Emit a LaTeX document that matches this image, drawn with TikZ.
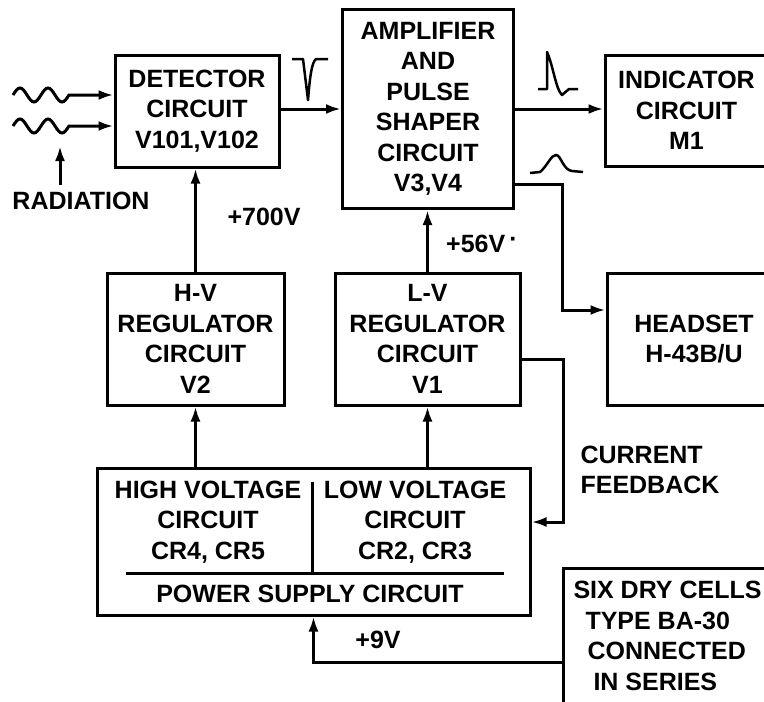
\documentclass[tikz,border=0pt]{standalone}
\usepackage{fontspec}
\setmainfont{Liberation Sans}
\usetikzlibrary{positioning,calc,arrows.meta}
\newcommand{\lettering}{\fontsize{25}{30.5}\selectfont}
\tikzset{
  blk/.style={draw, line width=3pt, align=center, font=\bfseries\lettering, inner sep=0pt},
  lbl/.style={font=\bfseries\lettering, align=center, inner sep=2pt},
  sig/.style={line width=3pt, -{Latex[length=15pt,width=10pt]}},
  wire/.style={line width=3pt},
  pulse/.style={line width=2.5pt, line join=round}
}

\begin{document}
\begin{tikzpicture}[x=1pt,y=-1pt]
  \useasboundingbox (0,0) rectangle (764,702);
  \clip (0,0) rectangle (764,702);

  % signal chain across the top
  \node[blk, minimum width=164pt, minimum height=112pt] (det) at (197,111) {DETECTOR\\CIRCUIT\\V101,V102};
  \node[blk, minimum width=171pt, minimum height=199pt] (amp) at (428,109) {AMPLIFIER\\AND\\PULSE\\SHAPER\\CIRCUIT\\V3,V4};
  \node[blk, minimum width=163pt, minimum height=111pt] (ind) at (686.5,110.5) {INDICATOR\\CIRCUIT\\M1};
  \node[blk, minimum width=174pt, minimum height=132pt] (hs) at (694,339) {HEADSET\\H-43B/U};

  % regulators
  \node[blk, minimum width=177pt, minimum height=132pt] (hvr) at (195.5,339) {H-V\\REGULATOR\\CIRCUIT\\V2};
  \node[blk, minimum width=185pt, minimum height=132pt] (lvr) at (427.5,339) {L-V\\REGULATOR\\CIRCUIT\\V1};

  % power supply, split in two halves
  \node[blk, minimum width=433pt, minimum height=147pt] (ps) at (313.5,541.5) {};
  \node[lbl] (hvc) at (208,522) {HIGH VOLTAGE\\CIRCUIT\\CR4, CR5};
  \node[lbl] (lvc) at (415,522) {LOW VOLTAGE\\CIRCUIT\\CR2, CR3};
  \node[lbl] (pst) at (310,594) {POWER SUPPLY CIRCUIT};
  \draw[wire] ($(ps.west)+(30,31.5)$) -- ($(ps.east)+(-28,31.5)$);
  \draw[wire] ($(ps.north)+(-1.5,15)$) -- ($(ps.north)+(-1.5,105)$);

  % battery
  \node[blk, align=left, minimum width=209pt, minimum height=136pt] (bat) at (667.5,636)
    {SIX DRY CELLS\\\hspace*{12pt}TYPE BA-30\\\hspace*{14pt}CONNECTED\\\hspace*{20pt}IN SERIES};

  % radiation inputs
  \node[lbl] (rad) at (81,201) {RADIATION};
  \coordinate (radtip) at (60,146);
  \draw[sig] ($(rad.north -| radtip)+(0,-5)$) -- (radtip);
  \coordinate (in1) at (13,95);
  \coordinate (in2) at (13,126);
  \draw[sig] (in1) sin ++(7,-7) cos ++(7,7) sin ++(7,7) cos ++(7,-7)
    sin ++(7,-7) cos ++(7,7) sin ++(7,7) cos ++(7,-7) -- ($(det.west)+(0,-16)$);
  \draw[sig] (in2) sin ++(7,-7) cos ++(7,7) sin ++(7,7) cos ++(7,-7)
    sin ++(7,-7) cos ++(7,7) sin ++(7,7) cos ++(7,-7) -- ($(det.west)+(0,15)$);

  % signal connectors
  \draw[sig] (det.east |- amp.west) -- (amp.west);
  \draw[sig] (amp.east) -- (amp.east -| ind.west);
  \draw[sig] ($(amp.east)+(0,75)$) -- ++(47,0) |- ($(hs.west)+(0,-29)$);

  % pulse sketches
  \draw[pulse] (292,59) -- (303,59) -- (308,100) .. controls (310,75) and (312,62) .. (316,59) -- (328,59);
  \draw[pulse] (538,89) -- (547,89) -- (547,52) .. controls (553,65) and (556,90) .. (562,95) -- (569,89) -- (578,89);
  \draw[pulse] (530,173) -- (540,172) .. controls (548,165) and (551,155) .. (556,155)
    .. controls (561,155) and (563,170) .. (572,171) -- (583,172);

  % supply connectors
  \draw[sig] (hvr.north) -- (hvr.north |- det.south);
  \draw[sig] (lvr.north) -- (lvr.north |- amp.south);
  \draw[sig] (ps.north -| hvr.south) -- (hvr.south);
  \draw[sig] (ps.north -| lvr.south) -- (lvr.south);
  \draw[sig] ($(lvr.east)+(0,20)$) -- ++(42,0) |- ($(ps.east)+(0,-19.5)$);
  \draw[sig] ($(bat.west)+(0,26)$) -| (ps.south);

  % voltage labels
  \node[lbl] (v700) at (264,217) {+700V};
  \node[lbl] (v56) at (482,244) {+56V\,\raisebox{5pt}{·}};
  \node[lbl] (v9) at (378,640) {+9V};
  \node[lbl, align=left] (fb) at (650,470) {CURRENT\\FEEDBACK};
\end{tikzpicture}
\end{document}
